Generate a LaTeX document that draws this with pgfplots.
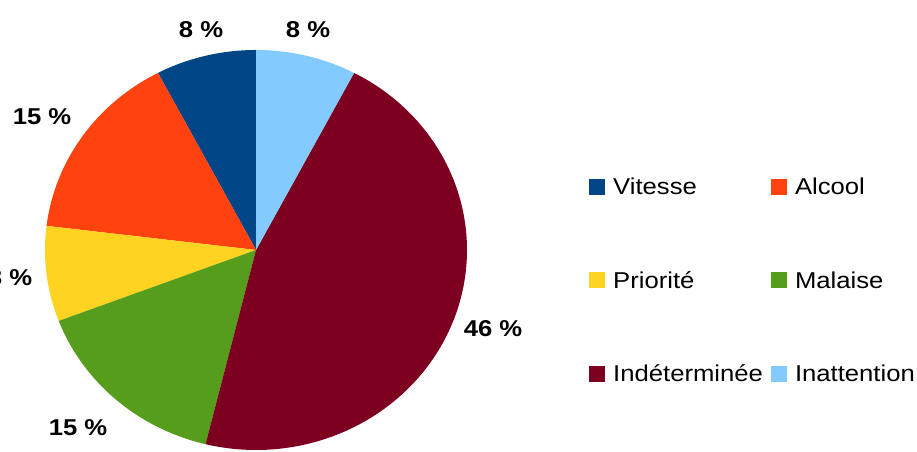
\documentclass[border=0pt]{standalone}
\usepackage{pgfplots}
\pgfplotsset{compat=1.18}
\usepackage{fontspec}
\setmainfont[FakeStretch=1.12]{Liberation Sans}
\definecolor{cVit}{HTML}{004586}
\definecolor{cAlc}{HTML}{FF420E}
\definecolor{cPri}{HTML}{FFD320}
\definecolor{cMal}{HTML}{579D1C}
\definecolor{cInd}{HTML}{7E0021}
\definecolor{cIna}{HTML}{83CAFF}
\begin{document}
\begin{tikzpicture}[x=1bp,y=1bp]
\useasboundingbox (0,0) rectangle (917,452);
% counts: Vitesse 1, Alcool 2, Priorite 1, Malaise 2, Indeterminee 6, Inattention 1 (total 13; 1 unit = 27.6923 deg)
\begin{axis}[at={(0,0)}, anchor=south west, scale only axis,
  width=917bp, height=452bp, xmin=0, xmax=917, ymin=0, ymax=452,
  hide axis, clip=false,
  legend columns=2,
  legend image code/.code={\fill[#1] (0bp,0bp) rectangle (16bp,16bp);},
  legend style={draw=none, fill=none, at={(axis cs:589,274)}, anchor=north west,
    font=\fontsize{23}{27}\selectfont, inner sep=0pt,
    nodes={inner sep=0pt, anchor=base west},
    row sep=75bp, column sep=8bp,
    /tikz/every even column/.append style={column sep=8bp}},
  every axis plot/.append style={draw=none, samples=60, smooth}]
\addplot[fill=cVit, domain=-270:-242.3077] ({256+211*cos(x)},{202+200*sin(x)}) -- (256,202) -- cycle;
\addplot[fill=cAlc, domain=-242.3077:-186.9231] ({256+211*cos(x)},{202+200*sin(x)}) -- (256,202) -- cycle;
\addplot[fill=cPri, domain=-186.9231:-159.2308] ({256+211*cos(x)},{202+200*sin(x)}) -- (256,202) -- cycle;
\addplot[fill=cMal, domain=-159.2308:-103.8462] ({256+211*cos(x)},{202+200*sin(x)}) -- (256,202) -- cycle;
\addplot[fill=cInd, domain=-103.8462:62.3077, samples=120] ({256+211*cos(x)},{202+200*sin(x)}) -- (256,202) -- cycle;
\addplot[fill=cIna, domain=62.3077:90] ({256+211*cos(x)},{202+200*sin(x)}) -- (256,202) -- cycle;
\legend{Vitesse, Alcool, Priorité, Malaise, Indéterminée, Inattention}
\begin{scope}[every node/.style={font=\bfseries\fontsize{23}{27}\selectfont}]
\node at (axis cs:201,422) {8 \%};
\node at (axis cs:308,422) {8 \%};
\node at (axis cs:42,335) {15 \%};
\node at (axis cs:10,174) {8 \%};
\node at (axis cs:78,24) {15 \%};
\node at (axis cs:493,123) {46 \%};
\end{scope}
\end{axis}
\end{tikzpicture}
\end{document}
